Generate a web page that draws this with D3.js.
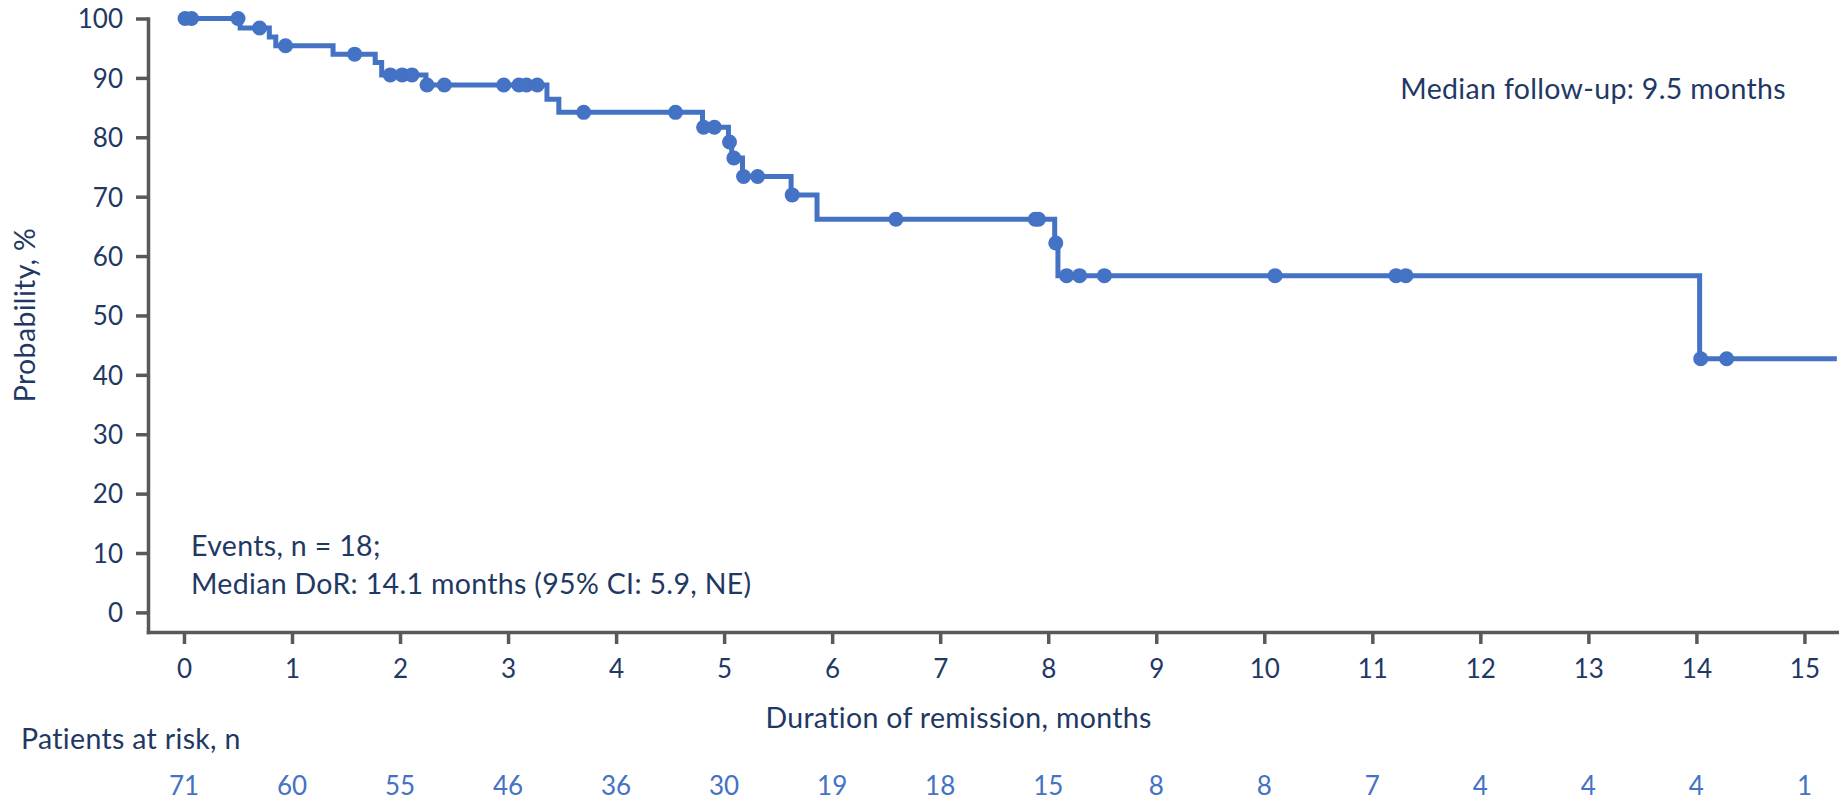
<!DOCTYPE html>
<html>
<head>
<meta charset="utf-8">
<script src="https://cdn.jsdelivr.net/npm/d3@7"></script>
<style>
  body { margin: 0; background: #fff; }
  svg { display: block; font-family: Lato, "Open Sans", sans-serif; }
  .axis path, .axis line { stroke: #595959; stroke-width: 3.5; }
  .axis path { stroke-linecap: square; }
  .axis text { fill: #1f3864; font-size: 26px; font-family: Lato, sans-serif; }
  .label { fill: #1f3864; font-size: 28.5px; letter-spacing: 0.33px; }
  .risk { fill: #4472c4; font-size: 26px; }
</style>
</head>
<body>
<div id="wrapper"></div>
<script>
// Kaplan-Meier steps: event time (months) and survival after it (%)
const eventTimes = [0.52, 0.79, 0.85, 1.38, 1.77, 1.83, 2.24, 3.36, 3.47, 4.80, 5.04, 5.07, 5.17, 5.62, 5.86, 8.06, 8.09, 14.03]
const eventSurvival = [98.4, 96.9, 95.4, 94.0, 92.6, 90.5, 88.8, 86.4, 84.2, 81.7, 79.2, 76.5, 73.4, 70.3, 66.2, 62.2, 56.7, 42.7]
const censorTimes = [0.01, 0.07, 0.50, 0.70, 0.94, 1.58, 1.91, 2.02, 2.11, 2.25, 2.41, 2.96, 3.10, 3.17, 3.27, 3.70, 4.55, 4.81, 4.91, 5.05, 5.09, 5.18, 5.31, 5.63, 6.59, 7.88, 7.91, 8.07, 8.17, 8.29, 8.52, 10.10, 11.22, 11.31, 14.04, 14.28]
const curveEnd = 15.3

const xTicks = d3.range(0, 16)
const yTicks = d3.range(0, 101, 10)
const atRisk = [71, 60, 55, 46, 36, 30, 19, 18, 15, 8, 8, 7, 4, 4, 4, 1]

function drawChart() {
  let dimensions = {
    width: 1839,
    height: 801,
    left: 148,
    right: 1839,
    top: 18.5,
    bottom: 632
  }

  const svg = d3.select("#wrapper")
    .append("svg")
      .attr("width", dimensions.width)
      .attr("height", dimensions.height)

  // scales
  const xScale = d3.scaleLinear()
    .domain([-0.333, 15.32])
    .range([dimensions.left, dimensions.right])

  const yScale = d3.scaleLinear()
    .domain([-3.3, 100])
    .range([dimensions.bottom, dimensions.top])

  // axes
  const xAxis = svg.append("g")
    .attr("class", "axis")
    .attr("transform", `translate(0,${dimensions.bottom})`)
    .call(d3.axisBottom(xScale).tickValues(xTicks).tickSize(12).tickSizeOuter(0))
  xAxis.selectAll("text").attr("dy", null).attr("y", 46)

  const yAxis = svg.append("g")
    .attr("class", "axis")
    .attr("transform", `translate(${dimensions.left},0)`)
    .call(d3.axisLeft(yScale).tickValues(yTicks).tickSize(12).tickPadding(13).tickSizeOuter(0))
  yAxis.selectAll("text").attr("dy", "0.36em")

  // curve
  const points = [{ t: 0, p: 100 }]
  eventTimes.forEach((t, i) => points.push({ t: t, p: eventSurvival[i] }))
  points.push({ t: curveEnd, p: eventSurvival[eventSurvival.length - 1] })

  const survivalAt = t => {
    let p = 100
    eventTimes.forEach((et, i) => { if (et <= t) p = eventSurvival[i] })
    return p
  }

  const line = d3.line()
    .x(d => xScale(d.t))
    .y(d => yScale(d.p))
    .curve(d3.curveStepAfter)

  svg.append("path")
    .datum(points)
    .attr("d", line)
    .attr("fill", "none")
    .attr("stroke", "#4472c4")
    .attr("stroke-width", 5)

  svg.selectAll(".censor")
    .data(censorTimes)
    .enter().append("circle")
      .attr("class", "censor")
      .attr("cx", d => xScale(d))
      .attr("cy", d => yScale(survivalAt(d)))
      .attr("r", 7.5)
      .attr("fill", "#4472c4")

  // labels
  svg.append("text")
    .attr("class", "label")
    .attr("transform", `translate(35,315) rotate(-90)`)
    .attr("text-anchor", "middle")
    .text("Probability, %")

  svg.append("text")
    .attr("class", "label")
    .attr("x", xScale(7.17))
    .attr("y", 728)
    .attr("text-anchor", "middle")
    .text("Duration of remission, months")

  svg.append("text")
    .attr("class", "label")
    .attr("x", 1786)
    .attr("y", 99)
    .attr("text-anchor", "end")
    .text("Median follow-up: 9.5 months")

  svg.append("text")
    .attr("class", "label")
    .attr("x", 191)
    .attr("y", 556)
    .text("Events, n = 18;")

  svg.append("text")
    .attr("class", "label")
    .attr("x", 191)
    .attr("y", 594)
    .text("Median DoR: 14.1 months (95% CI: 5.9, NE)")

  svg.append("text")
    .attr("class", "label")
    .attr("x", 21)
    .attr("y", 749)
    .text("Patients at risk, n")

  svg.selectAll(".risk")
    .data(atRisk)
    .enter().append("text")
      .attr("class", "risk")
      .attr("x", (d, i) => xScale(xTicks[i]))
      .attr("y", 795)
      .attr("text-anchor", "middle")
      .text(d => d)
}

drawChart()
</script>
</body>
</html>
